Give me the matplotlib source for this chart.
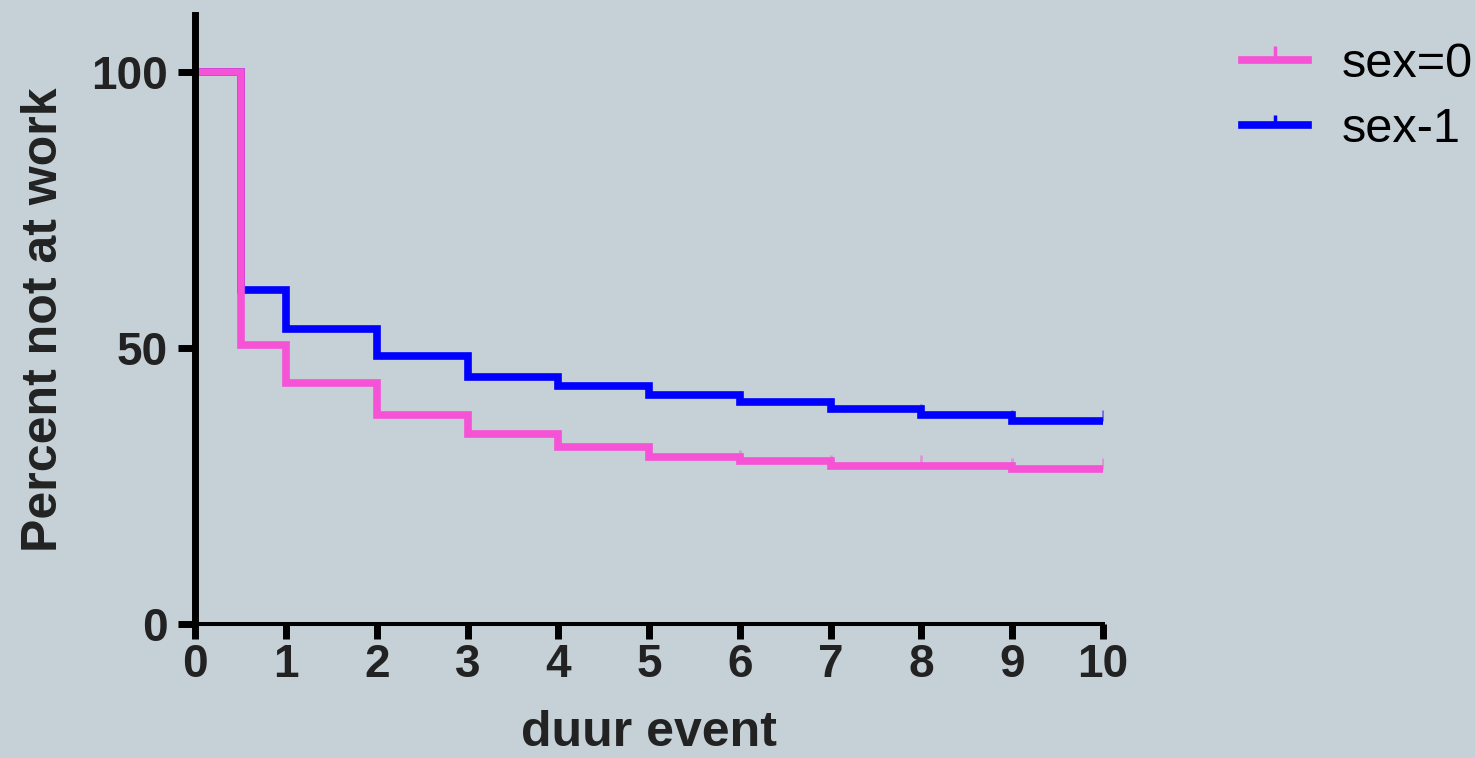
import matplotlib
matplotlib.use("Agg")
import matplotlib.pyplot as plt
from matplotlib.lines import Line2D

# Kaplan-Meier style curves
times = [0, 0.5, 1, 2, 3, 4, 5, 6, 7, 8, 9, 10]
sex0 = [100, 50.6, 43.7, 37.9, 34.4, 32.1, 30.3, 29.5, 28.6, 28.6, 28.0, 28.0]
sex1 = [100, 60.5, 53.5, 48.6, 44.8, 43.1, 41.5, 40.2, 39.0, 37.9, 36.7, 36.7]
labels = ["sex=0", "sex-1"]
xticks = list(range(0, 11))
yticks = [0, 50, 100]

bg = "#c5d0d7"
pink = "#f552d6"
blue = "#0000ff"
font = "Liberation Sans"

fig = plt.figure(figsize=(14.75, 7.58), dpi=100, facecolor=bg)
ax = fig.add_axes([0.1325, 0.1768, 0.6153, 0.8034], facecolor=bg)

# blue first so the pink sits on top where they overlap
for vals, col in [(sex1, blue), (sex0, pink)]:
    ax.step(times, vals, where="post", color=col, lw=5.5, solid_joinstyle="miter")
    # censor marks
    ax.plot(times[3:], vals[3:], ls="none", marker=2, ms=8, mew=2,
            color=col, alpha=0.45)

ax.set_xlim(0, 10)
ax.set_ylim(0, 110.3)
ax.set_xticks(xticks)
ax.set_yticks(yticks)

for s in ["top", "right"]:
    ax.spines[s].set_visible(False)
ax.spines["left"].set_linewidth(5)
ax.spines["bottom"].set_linewidth(2.9)

ax.tick_params(axis="x", length=11, width=5, pad=3, direction="out")
ax.tick_params(axis="y", length=12, width=5, pad=8, direction="out")
for lab in ax.get_xticklabels() + ax.get_yticklabels():
    lab.set_fontfamily(font)
    lab.set_fontweight("bold")
    lab.set_fontsize(33)
    lab.set_color("#222222")

ax.set_xlabel("duur event", fontfamily=font, fontweight="bold",
              fontsize=36, color="#222222")
ax.set_ylabel("Percent not at work", fontfamily=font, fontweight="bold",
              fontsize=36, color="#222222")
ax.xaxis.label.set_va("baseline")
ax.xaxis.set_label_coords(0.5, -0.200)
ax.yaxis.label.set_va("baseline")
ax.yaxis.set_label_coords(-0.153, 0.5)

handles = [
    Line2D([0], [0], color=pink, lw=5.5, marker=2, ms=10, mew=2.5),
    Line2D([0], [0], color=blue, lw=5.5, marker=2, ms=7, mew=2.5),
]
fig.legend(handles, labels, loc="upper left",
           bbox_to_anchor=(1242 / 1475, 1 - 42 / 758),
           frameon=False, borderpad=0, borderaxespad=0, numpoints=1,
           handlelength=1.35, handletextpad=0.7, labelspacing=0.42,
           prop={"family": font, "size": 35})

fig.savefig("out.png", dpi=100, facecolor=bg)
